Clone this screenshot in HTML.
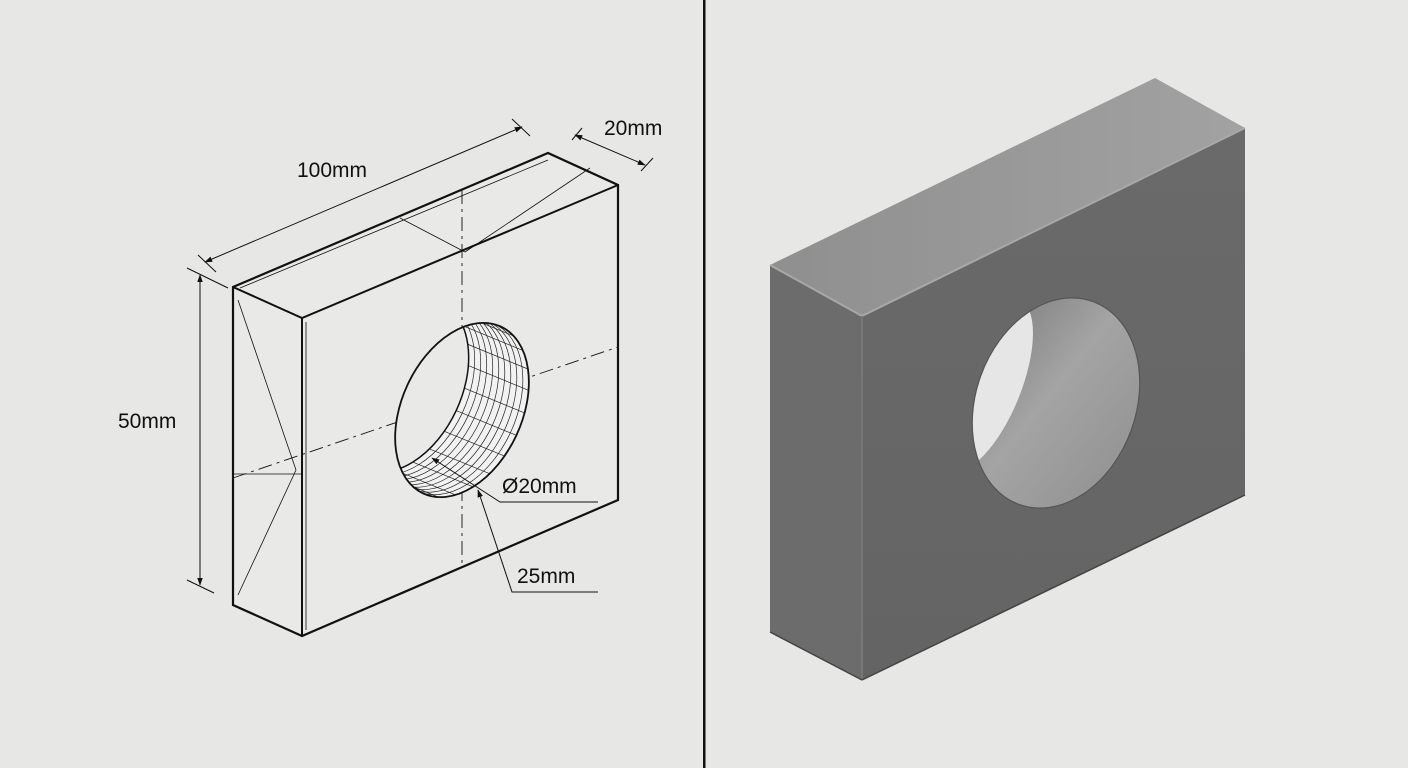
<!DOCTYPE html>
<html><head><style>
html,body{margin:0;padding:0;background:#e7e7e6;}
svg{display:block;}
text{font-family:"Liberation Sans",sans-serif;fill:#111;}
</style></head><body>
<svg width="1408" height="768" viewBox="0 0 1408 768" xmlns="http://www.w3.org/2000/svg">
<defs>
<marker id="ar" viewBox="0 0 10 10" refX="9" refY="5" markerWidth="8" markerHeight="8" orient="auto-start-reverse"><path d="M0,1.5 L10,5 L0,8.5 z" fill="#111"/></marker>
<linearGradient id="top" x1="0" y1="0" x2="1" y2="0"><stop offset="0" stop-color="#8f8f8f"/><stop offset="1" stop-color="#a2a2a2"/></linearGradient>
<linearGradient id="front" x1="0" y1="0" x2="0" y2="1"><stop offset="0" stop-color="#6a6a6a"/><stop offset="1" stop-color="#646464"/></linearGradient>
<linearGradient id="hole" x1="0" y1="0" x2="1" y2="1"><stop offset="0" stop-color="#6e6e6e"/><stop offset="0.45" stop-color="#a4a4a4"/><stop offset="1" stop-color="#8a8a8a"/></linearGradient>
<clipPath id="fe"><ellipse cx="0" cy="0" rx="60" ry="92"/></clipPath>
<clipPath id="rh"><ellipse cx="1056" cy="403" rx="80" ry="108" transform="rotate(20 1056 403)"/></clipPath>
</defs>
<rect width="1408" height="768" fill="#e7e7e6"/>
<g stroke="#111" fill="none">
<polygon points="233,287 548,153 618,185 618,500 302,636 233,605" fill="#e9e9e8" stroke-width="2.2"/>
<polyline points="233,287 302,318 618,185" stroke-width="2"/>
<line x1="302" y1="318" x2="302" y2="636" stroke-width="2"/>
<g stroke-width="0.8">
<line x1="240" y1="288" x2="548" y2="160"/>
<line x1="306" y1="322" x2="306" y2="630"/>
<line x1="238" y1="300" x2="296" y2="470"/>
<line x1="296" y1="470" x2="238" y2="595"/>
<line x1="400" y1="218" x2="465" y2="252"/>
<line x1="465" y1="252" x2="590" y2="168"/>
<line x1="233" y1="474" x2="302" y2="474"/>
</g>
<g stroke-width="0.9" stroke-dasharray="14,5,3,5">
<line x1="462" y1="190" x2="462" y2="565"/>
<line x1="233" y1="478" x2="618" y2="347"/>
</g>
</g>
<g transform="translate(462,410) rotate(25)">
<g clip-path="url(#fe)">
<ellipse cx="0" cy="0" rx="60" ry="92" fill="#f2f2f2"/>
<g stroke="#222" stroke-width="0.7" fill="none">
<ellipse cx="-6.5" cy="0.3" rx="60" ry="92"/><ellipse cx="-13" cy="0.6" rx="60" ry="92"/>
<ellipse cx="-19.5" cy="0.9" rx="60" ry="92"/><ellipse cx="-26" cy="1.2" rx="60" ry="92"/>
<ellipse cx="-32.5" cy="1.5" rx="60" ry="92"/><ellipse cx="-39" cy="1.8" rx="60" ry="92"/>
<ellipse cx="-45.5" cy="2.1" rx="60" ry="92"/><ellipse cx="-52" cy="2.4" rx="60" ry="92"/>
<ellipse cx="-58.5" cy="2.7" rx="60" ry="92"/>
<line x1="0" y1="-92" x2="-65" y2="-89"/><line x1="15.5" y1="-88.9" x2="-49.5" y2="-85.9"/>
<line x1="30" y1="-79.7" x2="-35" y2="-76.7"/><line x1="42.4" y1="-65" x2="-22.6" y2="-62"/>
<line x1="52" y1="-46" x2="-13" y2="-43"/><line x1="58" y1="-23.8" x2="-7" y2="-20.8"/>
<line x1="60" y1="0" x2="-5" y2="3"/><line x1="58" y1="23.8" x2="-7" y2="26.8"/>
<line x1="52" y1="46" x2="-13" y2="49"/><line x1="42.4" y1="65" x2="-22.6" y2="68"/>
<line x1="30" y1="79.7" x2="-35" y2="82.7"/><line x1="15.5" y1="88.9" x2="-49.5" y2="91.9"/>
<line x1="0" y1="92" x2="-65" y2="95"/><line x1="-15.5" y1="88.9" x2="-80" y2="92"/>
<line x1="-30" y1="79.7" x2="-95" y2="82.7"/>
</g>
<ellipse cx="-65" cy="3" rx="60" ry="92" fill="#e9e9e8" stroke="#111" stroke-width="1.5"/>
</g>
<ellipse cx="0" cy="0" rx="60" ry="92" fill="none" stroke="#111" stroke-width="1.8"/>
</g>
<g stroke="#111" stroke-width="1" fill="none">
<line x1="205" y1="262" x2="522" y2="127" marker-start="url(#ar)" marker-end="url(#ar)"/>
<line x1="198" y1="255" x2="216" y2="272"/>
<line x1="512" y1="119" x2="530" y2="136"/>
<line x1="575" y1="135" x2="645" y2="165" marker-start="url(#ar)" marker-end="url(#ar)"/>
<line x1="572" y1="140" x2="582" y2="128"/>
<line x1="641" y1="171" x2="653" y2="158"/>
<line x1="200" y1="275" x2="200" y2="585" marker-start="url(#ar)" marker-end="url(#ar)"/>
<line x1="187" y1="268" x2="228" y2="288"/>
<line x1="187" y1="580" x2="214" y2="593"/>
<polyline points="432,458 500,502 598,502" marker-start="url(#ar)"/>
<polyline points="478,490 512,592 598,592" marker-start="url(#ar)"/>
</g>
<text x="297" y="177" font-size="21">100mm</text>
<text x="604" y="135" font-size="21">20mm</text>
<text x="118" y="428" font-size="21">50mm</text>
<text x="502" y="493" font-size="21">Ø20mm</text>
<text x="517" y="583" font-size="21">25mm</text>
<rect x="703" y="0" width="2.5" height="768" fill="#111"/>
<polygon points="770,265 1155,78 1245,128 862,316" fill="url(#top)"/>
<polygon points="770,265 862,316 862,680 770,632" fill="#6c6c6c"/>
<polygon points="862,316 1245,128 1245,495 862,680" fill="url(#front)"/>
<polyline points="770,265 862,316 1245,128" fill="none" stroke="#a8a8a8" stroke-width="2"/>
<line x1="862" y1="316" x2="862" y2="680" stroke="#777" stroke-width="2"/>
<line x1="770" y1="632" x2="862" y2="680" stroke="#444" stroke-width="1.5"/>
<line x1="862" y1="680" x2="1245" y2="495" stroke="#444" stroke-width="1.5"/>
<g clip-path="url(#rh)">
<rect x="960" y="280" width="200" height="250" fill="url(#hole)"/>
<ellipse cx="985" cy="385" rx="36" ry="92" transform="rotate(22 985 385)" fill="#e6e6e6"/>
</g>
<ellipse cx="1056" cy="403" rx="80" ry="108" transform="rotate(20 1056 403)" fill="none" stroke="#555" stroke-width="1.2"/>
</svg>
</body></html>
